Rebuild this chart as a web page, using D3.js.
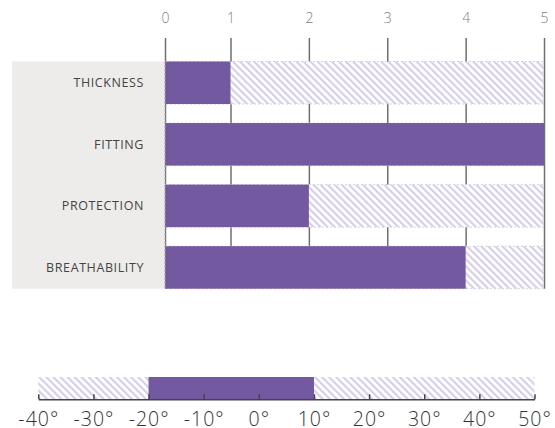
<!DOCTYPE html>
<html>
<head>
<meta charset="utf-8">
<script src="https://cdn.jsdelivr.net/npm/d3@7"></script>
<style>
  html, body { margin: 0; padding: 0; background: #fff; }
  svg { display: block; }
</style>
</head>
<body>
<svg id="chart" width="555" height="428"></svg>
<script>
// ---- data ----
const categories = ["THICKNESS", "FITTING", "PROTECTION", "BREATHABILITY"];
const values = [1, 5, 2, 4];
const ratingMax = 5;
const ratingTicks = [0, 1, 2, 3, 4, 5];
const tempDomain = [-40, 50];
const tempTicks = [-40, -30, -20, -10, 0, 10, 20, 30, 40, 50];
const tempRange = [-20, 10];

// ---- setup ----
const svg = d3.select("#chart");
const FONT = "'Open Sans', 'Noto Sans', sans-serif";
const PURPLE = "#7359a0";

const defs = svg.append("defs");
const pat = defs.append("pattern")
  .attr("id", "hatch")
  .attr("patternUnits", "userSpaceOnUse")
  .attr("width", 5).attr("height", 5)
  .attr("patternTransform", "rotate(-45)");
pat.append("rect").attr("width", 5).attr("height", 5).attr("fill", "#fff");
pat.append("rect").attr("x", 0).attr("y", 0).attr("width", 2.2).attr("height", 5).attr("fill", "#d6cfe7");

// top chart scales
const x = d3.scaleLinear().domain([0, 1, ratingMax]).range([165, 230.5, 544]);
const y = d3.scaleBand().domain(categories).range([61.5, 288.7]).paddingInner(0.309).paddingOuter(0);

// grid / axis
const axisG = svg.append("g")
  .attr("transform", "translate(0,38)")
  .call(d3.axisTop(x).tickValues(ratingTicks).tickFormat(d3.format("d"))
    .tickSizeInner(-(288.7 - 38)).tickSizeOuter(0).tickPadding(15));
axisG.select(".domain").remove();
axisG.selectAll(".tick line").attr("stroke", "#6f6f6f").attr("stroke-width", 1.5);
axisG.selectAll(".tick text")
  .attr("fill", "#808080").attr("font-family", FONT).attr("font-size", 14)
  .attr("font-weight", 300);

// label box
svg.append("rect")
  .attr("x", 12).attr("y", y.range()[0])
  .attr("width", x(0) - 12).attr("height", y.range()[1] - y.range()[0])
  .attr("fill", "#edecea");

// hatched backgrounds
svg.append("g").selectAll("rect").data(categories).join("rect")
  .attr("x", x(0)).attr("y", d => y(d))
  .attr("width", x(ratingMax) - x(0) - 0.8).attr("height", y.bandwidth())
  .attr("fill", "url(#hatch)")
  .attr("stroke", "#cccccc").attr("stroke-width", 0.8).attr("stroke-dasharray", "2,2");

// value bars
svg.append("g").selectAll("rect").data(categories).join("rect")
  .attr("x", x(0)).attr("y", d => y(d))
  .attr("width", (d, i) => x(values[i]) - x(0)).attr("height", y.bandwidth())
  .attr("fill", PURPLE);

// dashed edge at zero
svg.append("line")
  .attr("x1", x(0)).attr("x2", x(0))
  .attr("y1", y.range()[0]).attr("y2", y.range()[1])
  .attr("stroke", "#a9a9a9").attr("stroke-width", 1.2).attr("stroke-dasharray", "2,2");

// category labels
svg.append("g").selectAll("text").data(categories).join("text")
  .attr("x", 144).attr("y", d => y(d) + y.bandwidth() / 2)
  .attr("dy", "0.36em").attr("text-anchor", "end")
  .attr("fill", "#444").attr("font-family", FONT).attr("font-size", 12.5)
  .attr("letter-spacing", 0.6)
  .text(d => d);

// ---- temperature chart ----
const t = d3.scaleLinear().domain(tempDomain).range([38.3, 534.5]);
const axisY = 399.3;
svg.append("rect")
  .attr("x", t(tempDomain[0])).attr("y", 377)
  .attr("width", t(tempDomain[1]) - t(tempDomain[0])).attr("height", axisY - 377)
  .attr("fill", "url(#hatch)");
svg.append("rect")
  .attr("x", t(tempRange[0])).attr("y", 377)
  .attr("width", t(tempRange[1]) - t(tempRange[0])).attr("height", axisY - 377)
  .attr("fill", PURPLE);

const tAxis = svg.append("g")
  .attr("transform", `translate(0,${axisY})`)
  .call(d3.axisBottom(t).tickValues(tempTicks).tickFormat(d => d + "°")
    .tickSizeInner(-5).tickSizeOuter(0).tickPadding(13));
tAxis.select(".domain").attr("stroke", "#444").attr("stroke-width", 1.5);
tAxis.selectAll(".tick line").attr("stroke", "#444").attr("stroke-width", 1.5);
tAxis.selectAll(".tick text")
  .attr("fill", "#333").attr("font-family", FONT).attr("font-size", 19.5)
  .attr("font-weight", 300).attr("letter-spacing", 1);
</script>
</body>
</html>
